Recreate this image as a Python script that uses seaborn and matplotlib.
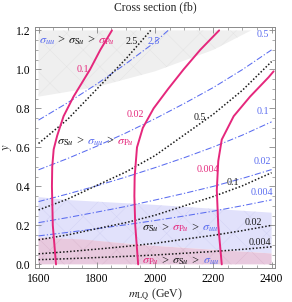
import numpy as np
import pandas as pd
import matplotlib
matplotlib.use("Agg")
import matplotlib.pyplot as plt
import seaborn as sns
from matplotlib import transforms

# ---------------- data ----------------
m_grid = [1600, 1700, 1800, 1900, 2000, 2100, 2200, 2300, 2400]

# sigma_Su contours (black dotted): y values along m_grid
su_25_m = [1600, 1700, 1800, 1900, 1985]
su_25_y = [0.62, 0.744, 0.899, 1.054, 1.20]
su_05_y = [0.279, 0.335, 0.405, 0.474, 0.558, 0.664, 0.770, 0.893, 1.04]
su_01_y = [0.126, 0.151, 0.183, 0.214, 0.252, 0.300, 0.348, 0.403, 0.470]
su_002_y = [0.054, 0.065, 0.078, 0.092, 0.108, 0.129, 0.149, 0.173, 0.200]
su_0004_y = [0.024, 0.029, 0.035, 0.041, 0.048, 0.057, 0.066, 0.077, 0.090]

# sigma_uu contours (blue dash-dot)
uu_25_m = [1600, 1700, 1800, 1900, 2000, 2045]
uu_25_y = [0.74, 0.829, 0.925, 1.029, 1.14, 1.20]
uu_05_y = [0.485, 0.543, 0.606, 0.674, 0.747, 0.825, 0.907, 0.999, 1.10]
uu_01_y = [0.322, 0.361, 0.403, 0.448, 0.496, 0.547, 0.602, 0.663, 0.731]
uu_002_y = [0.214, 0.240, 0.268, 0.297, 0.330, 0.364, 0.400, 0.441, 0.486]
uu_0004_y = [0.146, 0.164, 0.183, 0.203, 0.225, 0.248, 0.273, 0.301, 0.331]

# sigma_Pu contours (magenta solid), given as m along y
pu_01_y = [0.0, 0.2, 0.4, 0.5, 0.59, 0.66, 0.76, 0.86, 1.0, 1.1, 1.2]
pu_01_m = [1660, 1649, 1646, 1647, 1652, 1664, 1686, 1720, 1777, 1812, 1852]
pu_002_y = [0.0, 0.2, 0.35, 0.45, 0.6, 0.7, 0.8, 0.9, 1.0, 1.1, 1.2]
pu_002_m = [1942, 1932, 1929, 1930, 1938, 1958, 1995, 2045, 2098, 2155, 2220]
pu_0004_y = [0.0, 0.2, 0.38, 0.53, 0.64, 0.76, 0.86, 0.96, 0.99]
pu_0004_m = [2229, 2217, 2212, 2217, 2229, 2270, 2326, 2390, 2407]

# shaded regions
gray_m = [1600, 1800, 2000, 2200, 2330]
gray_low = [0.86, 0.91, 0.99, 1.10, 1.20]
blue_m = [1600, 1700, 2000, 2400]
blue_top = [0.345, 0.330, 0.305, 0.265]
pink_m = [1600, 1750, 1950, 2200, 2400]
pink_top = [0.138, 0.128, 0.100, 0.075, 0.056]

# contour labels
su_lab = [("2.5", 1920, 1.142), ("0.5", 2152, 0.752), ("0.1", 2269, 0.418),
          ("0.02", 2338, 0.213), ("0.004", 2361, 0.110)]
uu_lab = [("2.5", 1994, 1.142), ("0.5", 2371, 1.177), ("0.1", 2371, 0.783),
          ("0.02", 2367, 0.527), ("0.004", 2367, 0.368)]
pu_lab = [("0.1", 1753, 0.997), ("0.02", 1932, 0.767), ("0.004", 2183, 0.487)]

x_ticks = [1600, 1800, 2000, 2200, 2400]
y_ticks = [0.0, 0.2, 0.4, 0.6, 0.8, 1.0, 1.2]

# ---------------- style ----------------
MAG = "#e5277c"
BLU = "#5a6cf0"
BLK = "#1a1a1a"

sns.set_style("ticks")
plt.rcParams["font.family"] = ["Liberation Serif", "DejaVu Serif"]
plt.rcParams["mathtext.fontset"] = "stix"
plt.rcParams["hatch.linewidth"] = 0.35

fig, ax = plt.subplots(figsize=(2.92, 3.02), dpi=100)
fig.subplots_adjust(left=0.12, right=0.942, bottom=0.113, top=0.911)

# regions
ax.fill_between(gray_m, gray_low, [1.2] * len(gray_m), facecolor="#efefef",
                edgecolor="#e3e3e3", hatch="x", linewidth=0, zorder=0)
pink_on_blue = np.interp(blue_m, pink_m, pink_top)
ax.fill_between(blue_m, pink_on_blue, blue_top, facecolor="#e1e1fb",
                edgecolor="#d2d2f4", hatch="x", linewidth=0, zorder=0)
ax.fill_between(pink_m, [0] * len(pink_m), pink_top, facecolor="#e8c9de",
                edgecolor="#dbb8cf", hatch="x", linewidth=0, zorder=0)

# lines
def draw(xs, ys, **kw):
    df = pd.DataFrame({"x": xs, "y": ys})
    sns.lineplot(data=df, x="x", y="y", sort=False, estimator=None, ax=ax, **kw)

dot = dict(color=BLK, linestyle=(0, (1.0, 1.3)), linewidth=1.1)
dd = dict(color=BLU, linestyle=(0, (6, 2, 1.2, 2)), linewidth=0.75)
sol = dict(color=MAG, linestyle="-", linewidth=1.4)

draw(uu_25_m, uu_25_y, **dd)
for ys in (uu_05_y, uu_01_y, uu_002_y, uu_0004_y):
    draw(m_grid, ys, **dd)
draw(su_25_m, su_25_y, **dot)
for ys in (su_05_y, su_01_y, su_002_y, su_0004_y):
    draw(m_grid, ys, **dot)
for ms, ys in ((pu_01_m, pu_01_y), (pu_002_m, pu_002_y), (pu_0004_m, pu_0004_y)):
    draw(ms, ys, **sol)

for s, x, y in su_lab:
    ax.text(x, y, s, color=BLK, fontsize=7.2, ha="center", va="center")
for s, x, y in uu_lab:
    ax.text(x, y, s, color=BLU, fontsize=7.2, ha="center", va="center")
for s, x, y in pu_lab:
    ax.text(x, y, s, color=MAG, fontsize=7.2, ha="center", va="center")

# multicolour region labels
SU = r"$\sigma_{\mathrm{S}u}$"
PU = r"$\sigma_{\mathrm{P}u}$"
UU = r"$\sigma_{uu}$"
fig.canvas.draw()
rend = fig.canvas.get_renderer()

def multicolor(x, y, parts, fs=8.8):
    texts, widths = [], []
    for s, c in parts:
        t = ax.text(x, y, s, color=c, fontsize=fs, ha="left", va="baseline")
        texts.append(t)
        widths.append(t.get_window_extent(rend).width)
    off = -sum(widths) / 2
    for t, w in zip(texts, widths):
        t.set_transform(transforms.offset_copy(ax.transData, fig=fig, x=off, y=0, units="dots"))
        off += w

multicolor(1732, 1.135, [(UU, BLU), (" > ", BLK), (SU, BLK), (" > ", BLK), (PU, MAG)])
multicolor(1795, 0.615, [(SU, BLK), (" > ", BLK), (UU, BLU), (" > ", BLK), (PU, MAG)])
multicolor(2086, 0.172, [(SU, BLK), (" > ", BLK), (PU, MAG), (" > ", BLK), (UU, BLU)])
multicolor(2088, 0.002, [(PU, MAG), (" > ", BLK), (SU, BLK), (" > ", BLK), (UU, BLU)])

# axes
ax.set_xlim(1588, 2412)
ax.set_ylim(-0.018, 1.218)
ax.set_xticks(x_ticks)
ax.set_xticklabels([str(v) for v in x_ticks])
ax.set_yticks(y_ticks)
ax.set_yticklabels([f"{v:.1f}" for v in y_ticks])
ax.set_xticks(np.arange(1600, 2401, 50), minor=True)
ax.set_yticks(np.arange(0, 1.21, 0.05), minor=True)
ax.tick_params(which="both", direction="in", top=True, right=True, color="#888888",
               labelsize=8.4, labelcolor="black", pad=3.5)
ax.tick_params(which="major", length=4, width=0.6)
ax.tick_params(which="minor", length=2, width=0.5)
for sp in ax.spines.values():
    sp.set_color("#8a8a8a")
    sp.set_linewidth(0.7)

ax.set_xlabel(r"$m_{\mathrm{LQ}}$ (GeV)", fontsize=8.6, labelpad=1)
ax.set_ylabel(r"$y$", fontsize=9, labelpad=1)
ax.set_title("Cross section (fb)", fontsize=8.4, pad=12)

fig.savefig("out.png", dpi=100)
